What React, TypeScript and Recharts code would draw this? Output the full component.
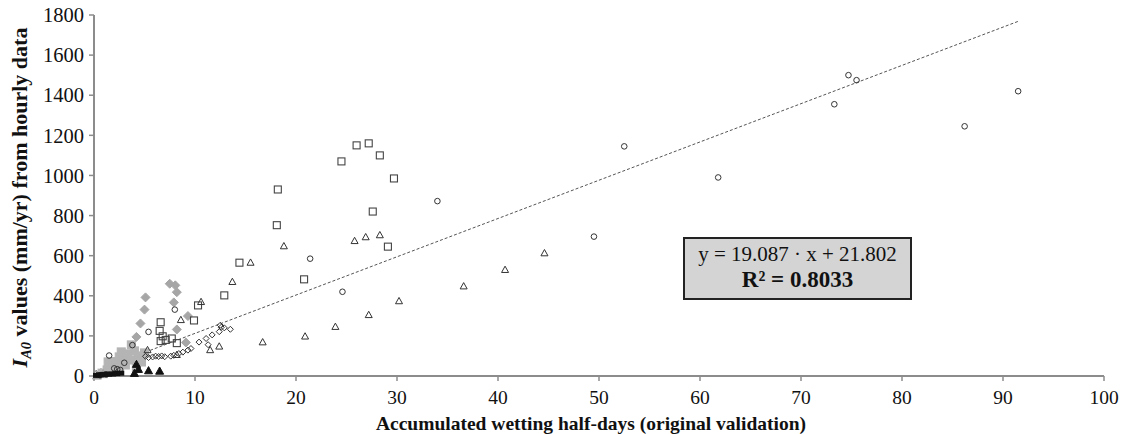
import { ScatterChart, Scatter, XAxis, YAxis, ReferenceLine } from "recharts";

type Pt = { x: number; y: number };
const pts = (rows: number[][]): Pt[] => rows.map(([x, y]) => ({ x, y }));

// regression shown in the box
const slope = 19.087;
const intercept = 21.802;
const rSquared = 0.8033;
const trendRange = [0, 91.5];

const xTicks = [0, 10, 20, 30, 40, 50, 60, 70, 80, 90, 100];
const yTicks = [0, 200, 400, 600, 800, 1000, 1200, 1400, 1600, 1800];

const openCircles = pts([
  [91.5, 1420], [86.2, 1245], [75.5, 1475], [74.7, 1500], [73.3, 1355], [61.8, 990],
  [52.5, 1145], [49.5, 695], [34.0, 872], [24.6, 420], [21.4, 585], [8.0, 331],
  [5.4, 220], [3.8, 154], [1.5, 102], [3.0, 66], [2.0, 38], [2.3, 34], [2.6, 30],
  [1.2, 8], [0.6, 4],
]);

const openSquares = pts([
  [26.0, 1150], [27.2, 1160], [24.5, 1070], [28.3, 1100], [29.7, 985], [18.2, 930],
  [18.1, 752], [27.6, 820], [29.1, 645], [14.4, 565], [20.8, 482], [12.9, 402],
  [10.3, 352], [9.9, 277], [6.6, 268], [6.5, 225], [6.8, 198], [6.6, 174], [7.1, 180],
  [7.7, 187], [8.2, 164],
]);

const openTriangles = pts([
  [44.6, 615], [40.7, 532], [36.6, 450], [30.2, 376], [28.3, 705], [26.9, 695],
  [25.8, 676], [27.2, 307], [23.9, 248], [20.9, 200], [18.8, 650], [16.7, 171],
  [15.5, 568], [13.7, 472], [12.4, 150], [11.5, 132], [10.6, 372], [8.6, 282],
  [8.2, 108], [5.3, 132],
]);

const openDiamonds = pts([
  [12.5, 253], [12.6, 243], [12.9, 240], [13.5, 233], [12.4, 221], [11.7, 205],
  [11.1, 187], [10.4, 169], [11.3, 156], [9.6, 137], [9.3, 129], [8.8, 119],
  [8.4, 112], [7.9, 103], [7.6, 99], [7.0, 96], [6.7, 100], [6.4, 97], [6.1, 99],
  [5.8, 95], [5.4, 92], [5.1, 98],
]);

const grayDiamonds = pts([
  [7.5, 460], [8.05, 452], [8.2, 418], [5.1, 392], [7.9, 367], [5.0, 331],
  [9.3, 299], [4.6, 262], [8.2, 232], [4.2, 195], [9.1, 167],
]);

const graySquares = pts([
  [0.8, 14], [1.3, 30], [1.7, 55], [2.1, 72], [2.5, 95], [2.9, 85], [3.3, 110],
  [3.7, 155], [4.0, 125], [4.4, 100], [4.7, 70], [3.1, 55], [2.4, 45], [3.6, 80],
  [4.2, 40], [1.9, 25], [5.0, 115], [2.7, 120], [1.4, 70],
]);

const grayTriangles = pts([[0.3, 5], [0.9, 12]]);

const blackTriangles = pts([[6.5, 27], [5.4, 29], [4.4, 36], [4.2, 61], [4.0, 16]]);

const blackDashes = pts([
  [0.3, 3], [0.6, 6], [1.0, 8], [1.4, 9], [1.8, 10], [2.2, 12], [2.6, 14],
]);

const FONT = '"Liberation Serif", "Times New Roman", serif';
const AXIS = "#8c8c8c";

const circle = (stroke: string, r: number) => (p: any) =>
  <circle cx={p.cx} cy={p.cy} r={r} fill="none" stroke={stroke} strokeWidth={1} />;

const square = (fill: string, stroke: string, s: number) => (p: any) =>
  <rect x={p.cx - s / 2} y={p.cy - s / 2} width={s} height={s} fill={fill} stroke={stroke} strokeWidth={1.1} />;

const triangle = (fill: string, stroke: string, s: number) => (p: any) => {
  const h = s * 0.9;
  return (
    <polygon
      points={`${p.cx},${p.cy - h / 2} ${p.cx - s / 2},${p.cy + h / 2} ${p.cx + s / 2},${p.cy + h / 2}`}
      fill={fill}
      stroke={stroke}
      strokeWidth={1}
    />
  );
};

const diamond = (fill: string, stroke: string, s: number) => (p: any) =>
  <polygon
    points={`${p.cx},${p.cy - s / 2} ${p.cx + s / 2},${p.cy} ${p.cx},${p.cy + s / 2} ${p.cx - s / 2},${p.cy}`}
    fill={fill}
    stroke={stroke}
    strokeWidth={1}
  />;

const dash = (p: any) => <rect x={p.cx - 4} y={p.cy - 2.5} width={8} height={5} fill="#111" />;

function YTitle(props: any) {
  const vb = props.viewBox || { x: 0, y: 15, width: 94, height: 361 };
  const cx = 27;
  const cy = vb.y + vb.height / 2 + 2;
  return (
    <text
      x={cx}
      y={cy}
      transform={`rotate(-90, ${cx}, ${cy})`}
      textAnchor="middle"
      fontFamily={FONT}
      fontWeight="bold"
      fontSize={22}
      fill="#111"
    >
      <tspan fontStyle="italic">I</tspan>
      <tspan fontStyle="italic" fontSize={14.5} dy={4}>A0</tspan>
      <tspan dy={-4}> values (mm/yr) from hourly data</tspan>
    </text>
  );
}

function XTitle() {
  return (
    <text x={591} y={430} textAnchor="middle" fontFamily={FONT} fontWeight="bold" fontSize={19.5} fill="#111">
      Accumulated wetting half-days (original validation)
    </text>
  );
}

export default function App() {
  const trend = trendRange.map((x) => ({ x, y: slope * x + intercept }));
  return (
    <div style={{ position: "absolute", left: 0, top: 0, width: 1127, height: 434, background: "#fff" }}>
      <ScatterChart width={1127} height={434} margin={{ top: 15, right: 23, bottom: 27, left: 0 }}>
        <XAxis
          type="number"
          dataKey="x"
          domain={[0, 100]}
          ticks={xTicks}
          interval={0}
          height={31}
          tickSize={5}
          tickMargin={9}
          axisLine={{ stroke: AXIS, strokeWidth: 2 }}
          tickLine={{ stroke: AXIS, strokeWidth: 1.5 }}
          tick={{ fill: "#111", fontSize: 19.5, fontFamily: FONT }}
          label={<XTitle />}
        />
        <YAxis
          type="number"
          dataKey="y"
          domain={[0, 1800]}
          ticks={yTicks}
          interval={0}
          width={94}
          tickSize={5}
          tickMargin={5}
          axisLine={{ stroke: AXIS, strokeWidth: 2 }}
          tickLine={{ stroke: AXIS, strokeWidth: 1.5 }}
          tick={{ fill: "#111", fontSize: 20.5, fontFamily: FONT }}
          label={<YTitle />}
        />
        <Scatter data={graySquares} shape={square("#b4b4b4", "#b4b4b4", 8)} isAnimationActive={false} />
        <Scatter data={grayTriangles} shape={triangle("#a0a0a0", "#a0a0a0", 9)} isAnimationActive={false} />
        <Scatter data={grayDiamonds} shape={diamond("#a6a6a6", "#a6a6a6", 9)} isAnimationActive={false} />
        <Scatter data={openSquares} shape={square("none", "#444", 7)} isAnimationActive={false} />
        <Scatter data={openTriangles} shape={triangle("none", "#333", 7)} isAnimationActive={false} />
        <Scatter data={openDiamonds} shape={diamond("none", "#333", 6)} isAnimationActive={false} />
        <Scatter data={openCircles} shape={circle("#333", 2.8)} isAnimationActive={false} />
        <Scatter data={blackTriangles} shape={triangle("#111", "#111", 8)} isAnimationActive={false} />
        <Scatter data={blackDashes} shape={dash} isAnimationActive={false} />
        <ReferenceLine
          segment={[trend[0], trend[1]]}
          stroke="#555"
          strokeWidth={1}
          strokeDasharray="3 2"
          ifOverflow="visible"
        />
      </ScatterChart>
      <div
        style={{
          position: "absolute",
          left: 683,
          top: 237,
          width: 225,
          height: 56,
          border: "2px solid #222",
          background: "#d4d4d4",
          fontFamily: FONT,
          color: "#111",
          textAlign: "center",
          lineHeight: "25px",
          paddingTop: 3,
        }}
      >
        <div style={{ fontSize: 21 }}>y = {slope.toFixed(3)} · x + {intercept.toFixed(3)}</div>
        <div style={{ fontSize: 23, fontWeight: "bold" }}>R² = {rSquared.toFixed(4)}</div>
      </div>
    </div>
  );
}
